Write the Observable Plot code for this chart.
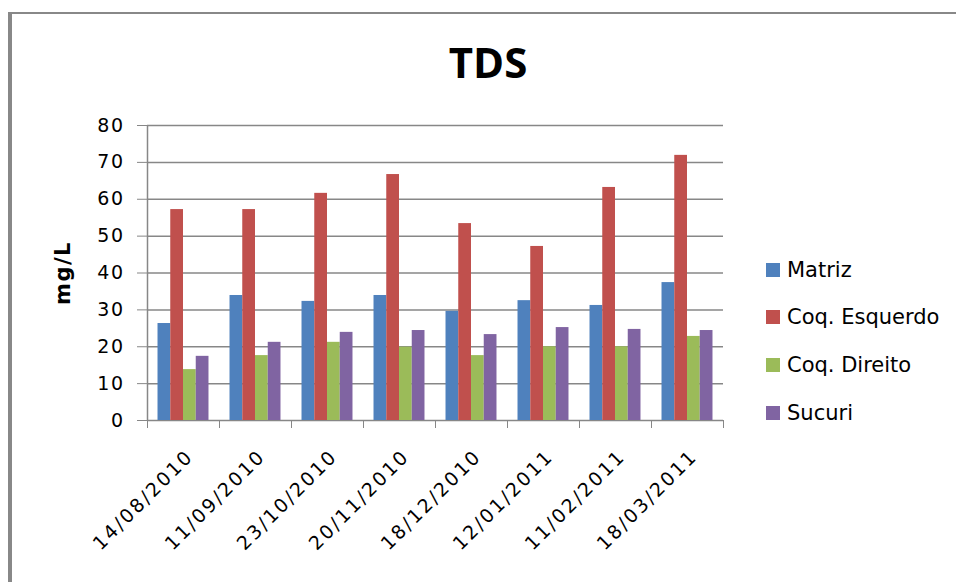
<!DOCTYPE html>
<html>
<head>
<meta charset="utf-8">
<script src="https://cdn.jsdelivr.net/npm/d3@7"></script>
<script src="https://cdn.jsdelivr.net/npm/@observablehq/plot@0.6"></script>
<style>
  html, body { margin: 0; padding: 0; background: #fff; }
  #chart { position: relative; width: 956px; height: 582px; overflow: hidden; background: #fff; }
  #frame { position: absolute; left: 8px; top: 12px; width: 960px; height: 600px;
           border-left: 4px solid #888; border-top: 2px solid #888; box-sizing: border-box; pointer-events: none; z-index: 5; }
  #title { position: absolute; left: 20px; width: 936px; top: 41px; line-height: 42px; text-align: center;
           font-family: "Open Sans", sans-serif; font-weight: 700; font-size: 42px; color: #000; }
  #plot { position: absolute; left: 0; top: 100px; }
  #legend { position: absolute; left: 766px; top: 246px; width: 190px; }
  #legend .lg-swatches { font-family: "DejaVu Sans", sans-serif !important; font-size: 21px !important; color: #000 !important; margin: 0 !important; }
  #legend .lg-swatches .lg-swatch { height: 47.67px !important; padding: 0 !important; margin: 0 !important; display: flex !important; align-items: center !important; }
  #legend .lg-swatches .lg-swatch svg { margin-right: 7px !important; }
  #plot g[aria-label="y-axis tick label"] { fill: #000; }
  #plot g[aria-label="y-axis tick label"] text { letter-spacing: 1.5px; }
  #plot g.xlabels text { letter-spacing: 2.3px; }
  #plot g.ylabel text { letter-spacing: 1.5px; }
</style>
</head>
<body>
<div id="chart">
  <div id="title">TDS</div>
  <div id="plot"></div>
  <div id="legend"></div>
  <div id="frame"></div>
</div>
<script>
const dates = ["14/08/2010", "11/09/2010", "23/10/2010", "20/11/2010", "18/12/2010", "12/01/2011", "11/02/2011", "18/03/2011"];
const seriesNames = ["Matriz", "Coq. Esquerdo", "Coq. Direito", "Sucuri"];
const matriz      = [26.3, 33.9, 32.3, 33.9, 29.6, 32.5, 31.2, 37.4];
const coqEsquerdo = [57.2, 57.2, 61.6, 66.7, 53.4, 47.2, 63.2, 71.9];
const coqDireito  = [13.8, 17.6, 21.2, 19.9, 17.6, 20.0, 20.0, 22.8];
const sucuri      = [17.4, 21.2, 23.9, 24.4, 23.3, 25.2, 24.7, 24.4];
const yTicks = [0, 10, 20, 30, 40, 50, 60, 70, 80];
const colors = ["#4F81BD", "#C0504D", "#9BBB59", "#8064A2"];
const yLabel = "mg/L";

// Excel-style clustered bars: gap width relative to bar width
const gapWidth = 1.65;
const seriesValues = [matriz, coqEsquerdo, coqDireito, sucuri];
const barW = 1 / (seriesNames.length + gapWidth);
const rows = [];
dates.forEach((date, i) => {
  seriesNames.forEach((s, j) => {
    const x1 = i + (gapWidth / 2) * barW + j * barW;
    rows.push({date, series: s, value: seriesValues[j][i], x1, x2: x1 + barW});
  });
});
const boundaries = d3.range(dates.length + 1);

const plot = Plot.plot({
  width: 956,
  height: 482,
  marginTop: 25,
  marginBottom: 162,
  marginLeft: 147,
  marginRight: 233,
  style: {fontFamily: "DejaVu Sans, sans-serif", fontSize: "19px", overflow: "visible", background: "transparent"},
  x: {domain: [0, dates.length]},
  y: {domain: [0, 80]},
  color: {domain: seriesNames, range: colors},
  marks: [
    Plot.ruleY(yTicks, {stroke: "#878787", strokeWidth: 1.5}),
    Plot.rectY(rows, {x1: "x1", x2: "x2", y: "value", fill: "series"}),
    Plot.ruleX([0], {stroke: "#878787", strokeWidth: 1.5}),
    Plot.axisY({ticks: yTicks, tickSize: 10, tickPadding: 13, color: "#878787", label: null, tickFormat: d => String(d)}),
    Plot.axisX({ticks: boundaries, tickSize: 8, color: "#878787", label: null, tickFormat: () => ""}),
    Plot.text(dates, {x: (d, i) => i + 0.5, frameAnchor: "bottom", rotate: -45, textAnchor: "end", lineAnchor: "bottom",
      dx: 11, dy: 37, fill: "#000", fontSize: 19, className: "xlabels"}),
    Plot.text([yLabel], {frameAnchor: "left", rotate: -90, dx: -84, textAnchor: "middle", lineAnchor: "middle",
      fontWeight: "bold", fontSize: 21, fill: "#000", className: "ylabel"})
  ]
});
document.getElementById("plot").appendChild(plot);

const legend = Plot.legend({
  color: {domain: seriesNames, range: colors},
  legend: "swatches",
  columns: 1,
  swatchSize: 14,
  className: "lg"
});
document.getElementById("legend").appendChild(legend);
</script>
</body>
</html>
